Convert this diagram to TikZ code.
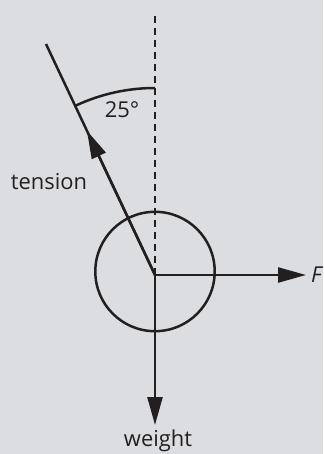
\documentclass[tikz,border=0pt]{standalone}
\usepackage{fontspec}
\setmainfont{Open Sans}
\usetikzlibrary{arrows.meta,calc}
\definecolor{bgc}{RGB}{220,221,224}
\definecolor{ink}{RGB}{35,31,32}
\begin{document}
\begin{tikzpicture}[x=1bp,y=-1bp,
  ln/.style={draw=ink,line width=2.5bp},
  dashln/.style={draw=ink,line width=2.5bp,dash pattern=on 7bp off 5bp},
  force/.style={ln,-{Triangle[length=28bp,width=15bp]}},
  lbl/.style={font=\fontsize{22}{26}\selectfont,text=ink,inner sep=0pt}]
\fill[bgc] (0,0) rectangle (323,454);
\useasboundingbox (0,0) rectangle (323,454);
\coordinate (O) at (155,275);
\coordinate (top) at (155,12);
\coordinate (T) at (46,44);
\coordinate (Fend) at (306,275);
\coordinate (Wend) at (155,425);
\node[ln,circle,minimum size=119.4bp,inner sep=0pt] (ball) at (155,271.5) {};
\draw[dashln] (O) -- (top);
\draw[ln] (O) -- (T);
\draw[force] (O) -- ($(O)!0.625!(T)$);
\draw[force] (O) -- (Fend);
\draw[force] (O) -- (Wend);
\draw[ln] (155,88) arc[start angle=-90,end angle=-115,radius=187];
\node[lbl] (ang) at (122,110) {25°};
\node[lbl] (ten) at (49,182) {tension};
\node[lbl,anchor=west] (F) at (311,275) {\itshape F};
\node[lbl] (w) at (158,441) {weight};
\end{tikzpicture}
\end{document}
